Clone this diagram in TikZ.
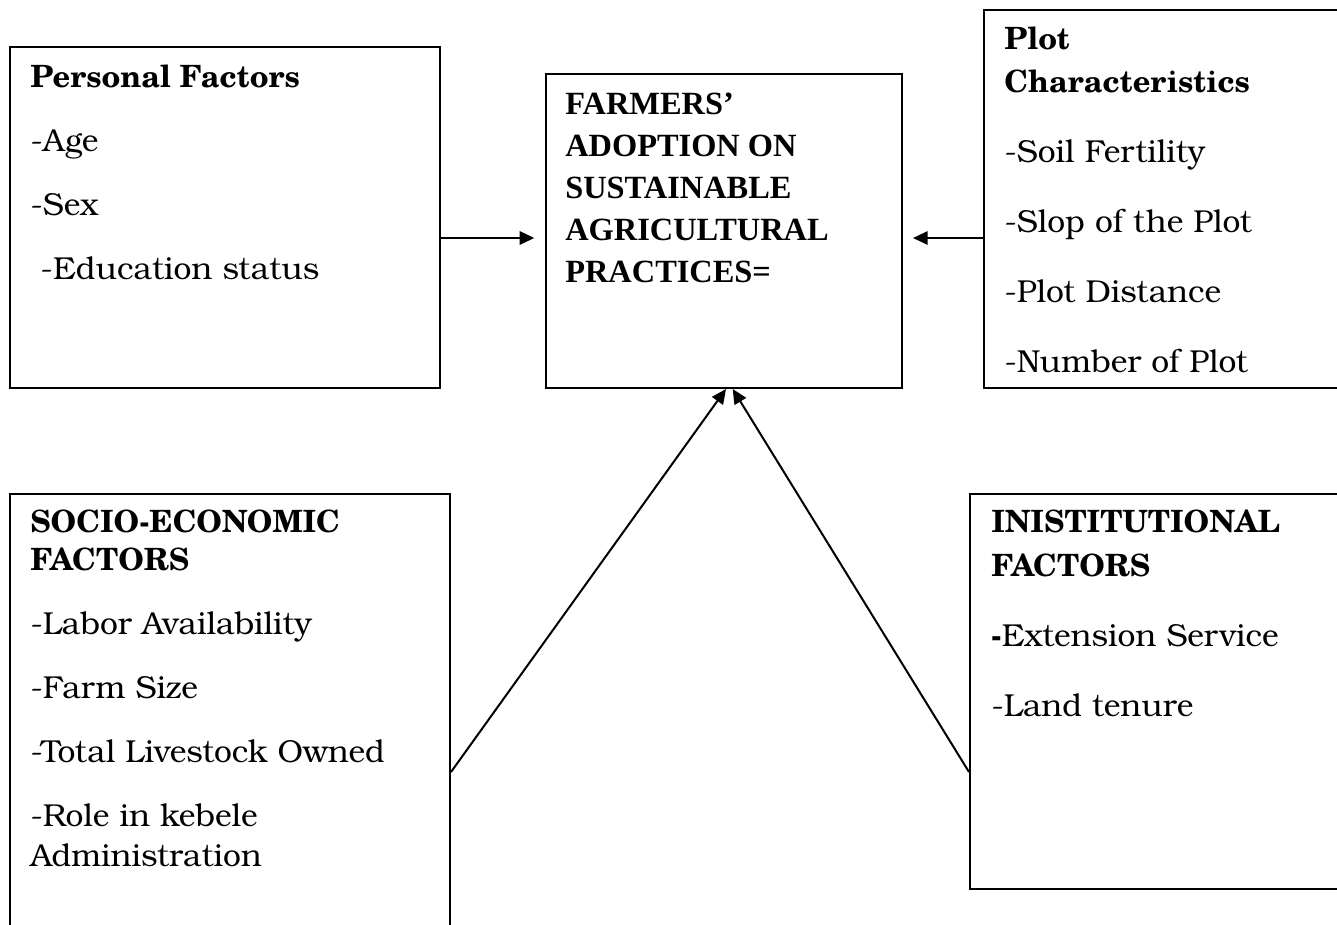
\documentclass[tikz,border=0pt]{standalone}
\usepackage{fontspec}
\setmainfont{texgyrebonum}[Extension=.otf, UprightFont=*-regular, BoldFont=texgyreschola-bold, ItalicFont=*-italic, BoldItalicFont=texgyreschola-bolditalic]
\newfontfamily\timesfont{Liberation Serif}
\usepackage{tikz}
\usetikzlibrary{arrows.meta,fit,calc}

\newcommand{\heading}[1]{{\fontsize{23}{30}\selectfont\bfseries #1}}

\begin{document}
\begin{tikzpicture}[x=0.75pt,y=-0.75pt,
    box/.style={draw,line width=1.5pt,inner sep=0pt},
    txt/.style={anchor=base west,inner sep=0pt,align=left},
    arr/.style={line width=1.5pt,-{Triangle[length=11pt,width=10pt]}}]

\useasboundingbox (0,0) rectangle (1337,924);

% boxes
\node[box,fit={(10,47) (440,388)}] (pers) {};
\node[box,fit={(546,74) (902,388)}] (farm) {};
\node[box,fit={(984,10) (1350,388)}] (plot) {};
\node[box,fit={(10,494) (450,940)}] (socio) {};
\node[box,fit={(970,494) (1350,889)}] (inst) {};

% texts (anchored at the last baseline)
\node[txt,font=\fontsize{23.8}{48}\selectfont] (perstxt) at ([shift={(21,233)}]pers.north west)
  {\heading{Personal Factors}\\
   -Age\\
   -Sex\\
   \ -Education status};

\node[txt,font=\timesfont\bfseries\fontsize{24.3}{31.5}\selectfont] (farmtxt) at ([shift={(20,209)}]farm.north west)
  {FARMERS’\\
   ADOPTION ON\\
   SUSTAINABLE\\
   AGRICULTURAL\\
   PRACTICES=};

\node[txt,font=\fontsize{23.8}{52.5}\selectfont] (plottxt) at ([shift={(21,363)}]plot.north west)
  {\heading{Plot}\\[-20.5pt]
   \heading{Characteristics}\\
   -Soil Fertility\\
   -Slop of the Plot\\
   -Plot Distance\\
   -Number of Plot};

\node[txt,font=\fontsize{23.8}{48}\selectfont] (sociotxt) at ([shift={(21,373)}]socio.north west)
  {\heading{SOCIO-ECONOMIC}\\[-20pt]
   \heading{FACTORS}\\
   -Labor Availability\\
   -Farm Size\\
   -Total Livestock Owned\\
   -Role in kebele\\[-18pt]
   Administration};

\node[txt,font=\fontsize{23.8}{52.5}\selectfont] (insttxt) at ([shift={(22,223)}]inst.north west)
  {\heading{INISTITUTIONAL}\\[-19.5pt]
   \heading{FACTORS}\\
   \textbf{-}Extension Service\\
   -Land tenure};

% arrows
\coordinate (pout) at (pers.east |- 0,238);
\coordinate (plout) at (plot.west |- 0,238);
\coordinate (sout) at (socio.east |- 0,772);
\coordinate (iout) at (inst.west |- 0,772);

\draw[arr] (pout) -- ([xshift=-8pt]farm.west |- pout);
\draw[arr] (plout) -- ([xshift=7.5pt]farm.east |- plout);
\draw[arr] (sout) -- ([xshift=1.5pt]farm.south);
\draw[arr] (iout) -- ([xshift=6.5pt]farm.south);
\end{tikzpicture}
\end{document}
